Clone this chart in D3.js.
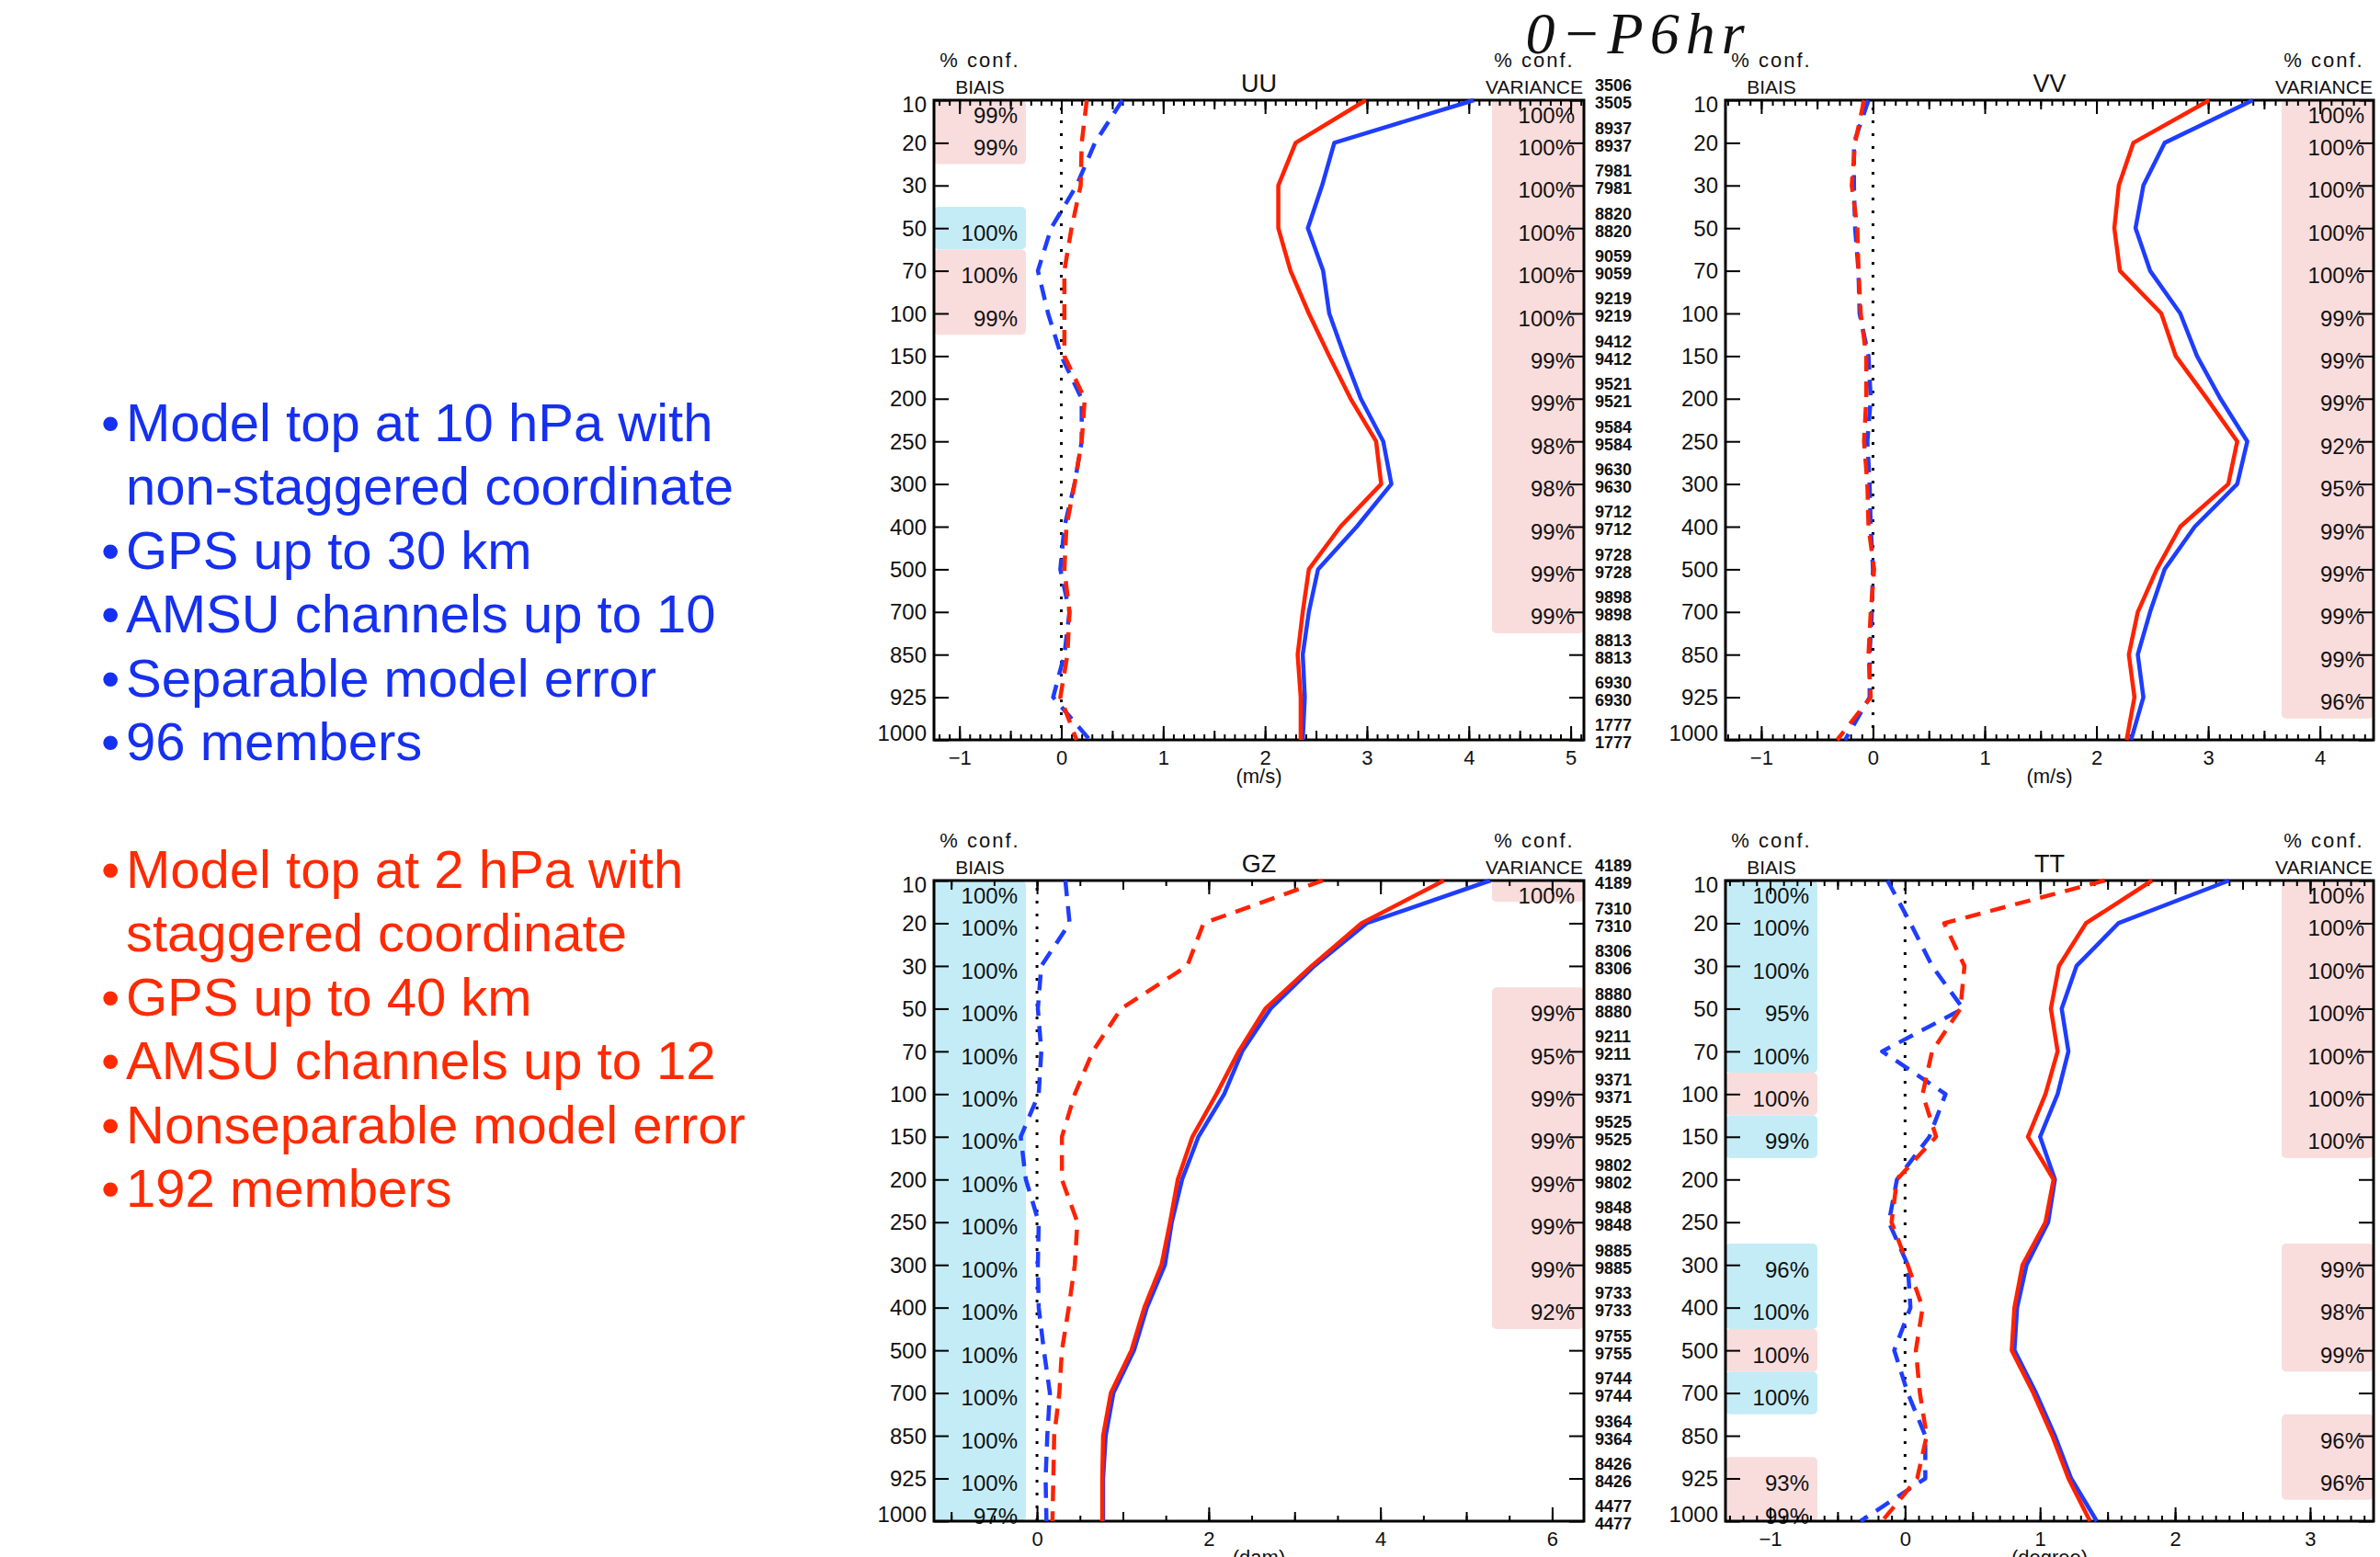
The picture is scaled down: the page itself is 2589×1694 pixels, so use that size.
<!DOCTYPE html>
<html><head><meta charset="utf-8">
<script src="https://cdn.jsdelivr.net/npm/d3@7"></script>
<style>body{margin:0;background:#fff}svg{display:block}</style>
</head><body>
<svg id="chart" width="2589" height="1694"></svg>
<script>
// ---------------- DATA ----------------
const levels = ["10","20","30","50","70","100","150","200","250","300","400","500","700","850","925","1000"];

// UU (m/s)
const uuStdRed   = [2.99, 2.30, 2.13, 2.13, 2.25, 2.43, 2.63, 2.84, 3.09, 3.14, 2.74, 2.43, 2.37, 2.32, 2.35, 2.35];
const uuStdBlue  = [4.05, 2.68, 2.56, 2.42, 2.57, 2.63, 2.78, 2.94, 3.16, 3.24, 2.90, 2.52, 2.43, 2.37, 2.39, 2.37];
const uuBiasRed  = [0.25, 0.20, 0.19, 0.10, 0.03, 0.03, 0.03, 0.23, 0.20, 0.13, 0.05, 0.03, 0.08, 0.06, -0.01, 0.15];
const uuBiasBlue = [0.60, 0.33, 0.15, -0.10, -0.23, -0.13, 0.00, 0.20, 0.20, 0.13, 0.03, -0.01, 0.08, 0.03, -0.08, 0.28];
const uuBiasConf = [99, 99, null, 100, 100, 99, null, null, null, null, null, null, null, null, null, null];
const uuBiasSig  = ["R","R",null,"B","R","R",null,null,null,null,null,null,null,null,null,null];
const uuVarConf  = [100,100,100,100,100,100,99,99,98,98,99,99,99,null,null,null];
const uuVarSig   = ["R","R","R","R","R","R","R","R","R","R","R","R","R",null,null,null];
const uuCountsUpper = ["3506","8937","7981","8820","9059","9219","9412","9521","9584","9630","9712","9728","9898","8813","6930","1777"];
const uuCountsLower = ["3505","8937","7981","8820","9059","9219","9412","9521","9584","9630","9712","9728","9898","8813","6930","1777"];

// VV (m/s)
const vvStdRed   = [3.01, 2.33, 2.20, 2.16, 2.21, 2.58, 2.71, 2.99, 3.26, 3.18, 2.75, 2.54, 2.37, 2.29, 2.34, 2.27];
const vvStdBlue  = [3.40, 2.61, 2.42, 2.35, 2.48, 2.75, 2.90, 3.11, 3.35, 3.26, 2.88, 2.61, 2.48, 2.37, 2.42, 2.31];
const vvBiasRed  = [-0.08, -0.16, -0.19, -0.14, -0.13, -0.11, -0.06, -0.06, -0.08, -0.05, -0.04, 0.01, -0.02, -0.04, -0.02, -0.32];
const vvBiasBlue = [-0.04, -0.17, -0.17, -0.16, -0.13, -0.12, -0.04, -0.02, -0.05, -0.03, -0.02, 0.00, -0.01, -0.03, -0.03, -0.25];
const vvBiasConf = [null,null,null,null,null,null,null,null,null,null,null,null,null,null,null,null];
const vvBiasSig  = [null,null,null,null,null,null,null,null,null,null,null,null,null,null,null,null];
const vvVarConf  = [100,100,100,100,100,99,99,99,92,95,99,99,99,99,96,null];
const vvVarSig   = ["R","R","R","R","R","R","R","R","R","R","R","R","R","R","R",null];

// GZ (dam)
const gzStdRed   = [4.74, 3.78, 3.20, 2.66, 2.35, 2.09, 1.81, 1.64, 1.55, 1.45, 1.25, 1.10, 0.86, 0.77, 0.76, 0.76];
const gzStdBlue  = [5.28, 3.84, 3.23, 2.72, 2.39, 2.18, 1.88, 1.69, 1.57, 1.49, 1.28, 1.13, 0.89, 0.80, 0.77, 0.77];
const gzBiasRed  = [3.33, 1.94, 1.75, 0.98, 0.65, 0.44, 0.29, 0.29, 0.47, 0.44, 0.37, 0.29, 0.26, 0.20, 0.19, 0.18];
const gzBiasBlue = [0.33, 0.38, 0.05, 0.01, 0.05, 0.02, -0.19, -0.13, 0.02, 0.01, 0.02, 0.08, 0.15, 0.12, 0.10, 0.11];
const gzBiasConf = [100,100,100,100,100,100,100,100,100,100,100,100,100,100,100,97];
const gzBiasSig  = ["B","B","B","B","B","B","B","B","B","B","B","B","B","B","B","B"];
const gzVarConf  = [100,null,null,99,95,99,99,99,99,99,92,null,null,null,null,null];
const gzVarSig   = ["R",null,null,"R","R","R","R","R","R","R","R",null,null,null,null,null];
const gzCountsUpper = ["4189","7310","8306","8880","9211","9371","9525","9802","9848","9885","9733","9755","9744","9364","8426","4477"];
const gzCountsLower = ["4189","7310","8306","8880","9211","9371","9525","9802","9848","9885","9733","9755","9744","9364","8426","4477"];

// TT (degree)
const ttStdRed   = [1.83, 1.34, 1.14, 1.08, 1.13, 1.04, 0.91, 1.10, 1.04, 0.87, 0.81, 0.79, 0.95, 1.09, 1.21, 1.37];
const ttStdBlue  = [2.40, 1.58, 1.27, 1.16, 1.21, 1.13, 1.00, 1.11, 1.06, 0.90, 0.83, 0.81, 0.97, 1.11, 1.23, 1.42];
const ttBiasRed  = [1.48, 0.29, 0.44, 0.41, 0.20, 0.13, 0.23, -0.06, -0.10, 0.02, 0.13, 0.08, 0.11, 0.16, 0.09, -0.17];
const ttBiasBlue = [-0.13, 0.04, 0.20, 0.43, -0.17, 0.30, 0.18, -0.06, -0.12, 0.02, 0.04, -0.08, 0.02, 0.15, 0.15, -0.33];
const ttBiasConf = [100,100,100,95,100,100,99,null,null,96,100,100,100,null,93,99];
const ttBiasSig  = ["B","B","B","B","B","R","B",null,null,"B","B","R","B",null,"R","R"];
const ttVarConf  = [100,100,100,100,100,100,100,null,null,99,98,99,null,96,96,null];
const ttVarSig   = ["R","R","R","R","R","R","R",null,null,"R","R","R",null,"R","R",null];

const titleText = "0\u2212P6hr";
const blueNotes = [["\u2022","Model top at 10 hPa with"],["","non-staggered coordinate"],["\u2022","GPS up to 30 km"],["\u2022","AMSU channels up to 10"],["\u2022","Separable model error"],["\u2022","96 members"]];
const redNotes  = [["\u2022","Model top at 2 hPa with"],["","staggered coordinate"],["\u2022","GPS up to 40 km"],["\u2022","AMSU channels up to 12"],["\u2022","Nonseparable model error"],["\u2022","192 members"]];

// ---------------- STYLE ----------------
const FONT = "'Liberation Sans', Arial, Helvetica, sans-serif";
const RED = "#ff2200", BLUE = "#1f3dff";
const PINK = "#f9dcdc", CYAN = "#c4ecf6";
const sigColor = {R: PINK, B: CYAN};

const panels = [
  {title:"UU", unit:"(m/s)", left:1016, top:109, width:707, height:696, domain:[-1.25,5.13], minor:0.1, mid:0.5, major:1,
   stdRed:uuStdRed, stdBlue:uuStdBlue, biasRed:uuBiasRed, biasBlue:uuBiasBlue,
   biasConf:uuBiasConf, biasSig:uuBiasSig, varConf:uuVarConf, varSig:uuVarSig, counts:[uuCountsUpper, uuCountsLower]},
  {title:"VV", unit:"(m/s)", left:1877, top:109, width:705, height:696, domain:[-1.32,4.48], minor:0.1, mid:0.5, major:1,
   stdRed:vvStdRed, stdBlue:vvStdBlue, biasRed:vvBiasRed, biasBlue:vvBiasBlue,
   biasConf:vvBiasConf, biasSig:vvBiasSig, varConf:vvVarConf, varSig:vvVarSig, counts:null},
  {title:"GZ", unit:"(dam)", left:1016, top:958, width:707, height:697, domain:[-1.2,6.37], minor:0.5, mid:1, major:2,
   stdRed:gzStdRed, stdBlue:gzStdBlue, biasRed:gzBiasRed, biasBlue:gzBiasBlue,
   biasConf:gzBiasConf, biasSig:gzBiasSig, varConf:gzVarConf, varSig:gzVarSig, counts:[gzCountsUpper, gzCountsLower]},
  {title:"TT", unit:"(degree)", left:1877, top:958, width:705, height:697, domain:[-1.33,3.47], minor:0.1, mid:0.5, major:1,
   stdRed:ttStdRed, stdBlue:ttStdBlue, biasRed:ttBiasRed, biasBlue:ttBiasBlue,
   biasConf:ttBiasConf, biasSig:ttBiasSig, varConf:ttVarConf, varSig:ttVarSig, counts:null}
];

const svg = d3.select("#chart");

function stepValues(dom, s) {
  return d3.range(Math.ceil(dom[0]/s - 1e-9), Math.floor(dom[1]/s + 1e-9) + 1).map(k => +(k*s).toFixed(4));
}

function runs(sig) {
  const out = [];
  let i = 0;
  while (i < sig.length) {
    if (!sig[i]) { i++; continue; }
    let j = i;
    while (j + 1 < sig.length && sig[j+1] === sig[i]) j++;
    out.push({s: sig[i], a: i, b: j});
    i = j + 1;
  }
  return out;
}

panels.forEach(p => {
  const L = p.left, T = p.top, R = p.left + p.width, B = p.top + p.height;
  const x = d3.scaleLinear().domain(p.domain).range([L, R]);
  const y = d3.scalePoint().domain(levels).range([T, B]);
  const half = y.step() / 2;
  const g = svg.append("g");

  // confidence boxes
  const boxW = 100;
  [[p.biasSig, L], [p.varSig, R - boxW]].forEach(([sig, bx]) => {
    runs(sig).forEach(r => {
      const y0 = Math.max(T, y(levels[r.a]) - half);
      const y1 = Math.min(B, y(levels[r.b]) + half);
      g.append("rect").attr("x", bx).attr("y", y0).attr("width", boxW).attr("height", y1 - y0)
        .attr("rx", 5).attr("fill", sigColor[r.s]);
    });
  });

  // percent labels
  const pctY = lev => Math.min(B - 6, Math.max(T + 16, y(lev) + 5));
  [[p.biasConf, L + 91], [p.varConf, R - 10]].forEach(([conf, tx]) => {
    g.selectAll(null).data(levels.map((lev, i) => ({lev, v: conf[i]})).filter(d => d.v != null))
      .enter().append("text")
      .attr("x", tx).attr("y", d => pctY(d.lev)).attr("dy", "0.36em")
      .attr("text-anchor", "end").attr("font-family", FONT).attr("font-size", 24).attr("fill", "#111")
      .text(d => d.v + "%");
  });

  // axes: x bottom & top with minor / mid / major ticks
  const tickSets = [[stepValues(p.domain, p.minor), 6], [stepValues(p.domain, p.mid), 10], [stepValues(p.domain, p.major), 15]];
  tickSets.forEach(([vals, len]) => {
    const ab = g.append("g").attr("transform", `translate(0,${B})`)
      .call(d3.axisBottom(x).tickValues(vals).tickSize(-len).tickFormat(""));
    ab.select(".domain").remove();
    ab.selectAll("line").attr("stroke", "#000").attr("stroke-width", 2);
    const at = g.append("g").attr("transform", `translate(0,${T})`)
      .call(d3.axisTop(x).tickValues(vals).tickSize(-len).tickFormat(""));
    at.select(".domain").remove();
    at.selectAll("line").attr("stroke", "#000").attr("stroke-width", 2);
  });
  // x labels
  const xl = g.append("g").attr("transform", `translate(0,${B})`)
    .call(d3.axisBottom(x).tickValues(stepValues(p.domain, p.major)).tickSize(0).tickPadding(11)
      .tickFormat(d => d < 0 ? "\u2212" + Math.abs(d) : String(d)));
  xl.select(".domain").remove();
  xl.selectAll("text").attr("font-family", FONT).attr("font-size", 22).attr("fill", "#111");

  // y axes
  const yl = g.append("g").attr("transform", `translate(${L},0)`)
    .call(d3.axisLeft(y).tickSize(-16).tickPadding(8));
  yl.select(".domain").remove();
  yl.selectAll("line").attr("stroke", "#000").attr("stroke-width", 2);
  yl.selectAll("text").attr("font-family", FONT).attr("font-size", 24).attr("fill", "#111")
    .attr("dy", d => d === levels[0] ? "0.5em" : d === levels[levels.length-1] ? "0.0em" : "0.34em");
  const yr = g.append("g").attr("transform", `translate(${R},0)`)
    .call(d3.axisRight(y).tickSize(-16).tickFormat(""));
  yr.select(".domain").remove();
  yr.selectAll("line").attr("stroke", "#000").attr("stroke-width", 2);

  // frame
  g.append("rect").attr("x", L).attr("y", T).attr("width", p.width).attr("height", p.height)
    .attr("fill", "none").attr("stroke", "#000").attr("stroke-width", 3);

  // zero dotted line
  g.append("line").attr("x1", x(0)).attr("x2", x(0)).attr("y1", T + 8).attr("y2", B)
    .attr("stroke", "#000").attr("stroke-width", 3).attr("stroke-dasharray", "3,11");

  // profiles
  const line = d3.line().x(d => x(d.v)).y(d => y(d.lev));
  const series = [
    {vals: p.biasBlue, color: BLUE, dash: "17,11"},
    {vals: p.biasRed,  color: RED,  dash: "17,11"},
    {vals: p.stdBlue,  color: BLUE, dash: null},
    {vals: p.stdRed,   color: RED,  dash: null}
  ];
  series.forEach(s => {
    g.append("path").datum(levels.map((lev, i) => ({lev, v: s.vals[i]})))
      .attr("d", line).attr("fill", "none").attr("stroke", s.color).attr("stroke-width", 4.5)
      .attr("stroke-linejoin", "round").attr("stroke-dasharray", s.dash);
  });

  // headers
  const hdr = (tx, ty, txt, anchor, size, ls) => g.append("text").attr("x", tx).attr("y", ty)
    .attr("text-anchor", anchor).attr("font-family", FONT).attr("font-size", size)
    .attr("letter-spacing", ls || 0).attr("fill", "#111").text(txt);
  hdr(L + 50, T - 36, "% conf.", "middle", 22, 2);
  hdr(L + 50, T - 7, "BIAIS", "middle", 21);
  hdr(R - 54, T - 36, "% conf.", "middle", 22, 2);
  hdr(R - 54, T - 7, "VARIANCE", "middle", 21);
  hdr((L + R) / 2, T - 9, p.title, "middle", 27);
  hdr((L + R) / 2, B + 47, p.unit, "middle", 22);

  // counts
  if (p.counts) {
    [[p.counts[0], -16], [p.counts[1], 3]].forEach(([arr, off]) => {
      g.selectAll(null).data(levels.map((lev, i) => ({lev, c: arr[i]}))).enter().append("text")
        .attr("x", R + 12).attr("y", d => y(d.lev) + off).attr("dy", "0.36em")
        .attr("font-family", FONT).attr("font-size", 18).attr("font-weight", "bold").attr("fill", "#111")
        .text(d => d.c);
    });
  }
});

// title
svg.append("text").attr("x", 1782).attr("y", 58).attr("text-anchor", "middle")
  .attr("font-family", "'Liberation Serif', 'DejaVu Serif', serif").attr("font-style", "italic")
  .attr("font-size", 64).attr("letter-spacing", 7).attr("fill", "#111").text(titleText);

// notes
function notes(list, y0, color) {
  list.forEach((d, i) => {
    const yy = y0 + i * 69.4;
    if (d[0]) svg.append("text").attr("x", 110).attr("y", yy).attr("font-family", FONT)
      .attr("font-size", 58).attr("fill", color).text(d[0]);
    svg.append("text").attr("x", 137).attr("y", yy).attr("font-family", FONT)
      .attr("font-size", 58).attr("fill", color).text(d[1]);
  });
}
notes(blueNotes, 480, "#1530f0");
notes(redNotes, 966, "#ff2a00");
</script>
</body></html>
